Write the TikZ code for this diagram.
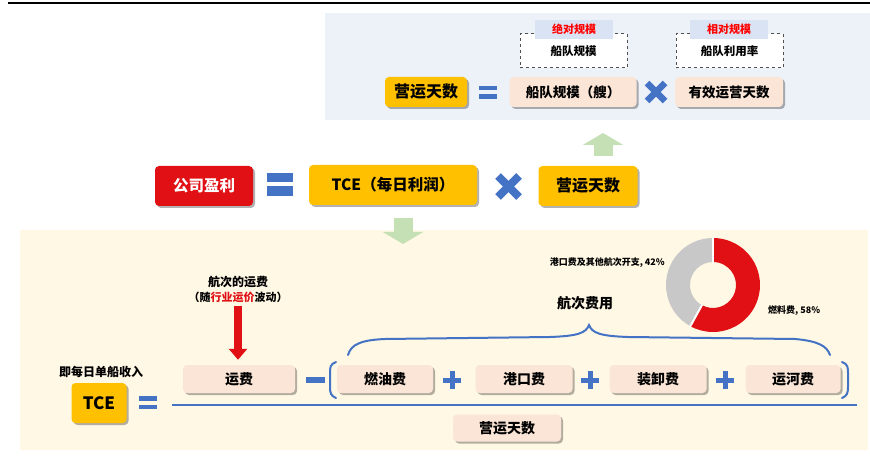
\documentclass[tikz,border=0pt]{standalone}
\usepackage{fontspec}
\setmainfont{Noto Sans CJK SC}
\usetikzlibrary{shadows,arrows.meta,calc}
\definecolor{cYellow}{RGB}{255,192,0}
\definecolor{cRed}{RGB}{224,16,20}
\definecolor{cPeach}{RGB}{251,229,214}
\definecolor{cBlue}{RGB}{68,114,196}
\definecolor{cBlueBg}{RGB}{237,242,249}
\definecolor{cCream}{RGB}{255,248,229}
\definecolor{cTag}{RGB}{218,227,243}
\definecolor{cGreen}{RGB}{197,224,180}
\definecolor{cGray}{RGB}{200,200,200}
\definecolor{cDash}{RGB}{80,80,80}
\newcommand{\fs}[1]{\bfseries\fontsize{#1}{#1}\selectfont}
\begin{document}
\begin{tikzpicture}[x=1pt,y=-1pt,
  box/.style={rounded corners=4pt, inner sep=0pt, align=center, font=\fs{14},
    drop shadow={shadow xshift=2pt,shadow yshift=-2pt,fill=black,opacity=.3}},
  ybox/.style={box, fill=cYellow},
  pbox/.style={box, fill=cPeach},
  rbox/.style={box, fill=cRed, text=white},
  dbox/.style={draw=cDash, dashed, line width=1pt, fill=white, inner sep=0pt, font=\fs{11.5}},
  tagbox/.style={fill=cTag, inner sep=0pt, text=red, font=\fs{11}},
  sign/.style={fill=cBlue},
  xsign/.style={draw=cBlue, line width=#1},
  xsign/.default=6.5pt,
  bline/.style={draw=cBlue, line width=2pt, line cap=round},
  garrow/.style={draw=cGreen, line width=19pt, -{Triangle[width=40pt,length=12pt]}},
  rarrow/.style={draw=cRed, line width=8pt, -{Triangle[width=18pt,length=11pt]}},
  lbl/.style={inner sep=1pt, font=\fs{#1}}
]
\useasboundingbox (0,0) rectangle (870,457);
% top rule
\draw[black, line width=2.5pt] (8,3) -- (870,3);

% ---------- top panel ----------
\fill[cBlueBg] (325,13) rectangle (870,120);
\node[dbox, minimum width=107pt, minimum height=34pt] (absbox) at (573.5,51) {\raisebox{-3pt}{船队规模}};
\node[tagbox, minimum width=78pt, minimum height=19pt] (abstag) at (574,29.5) {绝对规模};
\node[dbox, minimum width=107pt, minimum height=34pt] (relbox) at (729.5,51) {\raisebox{-3pt}{船队利用率}};
\node[tagbox, minimum width=78pt, minimum height=19pt] (reltag) at (729,29.5) {相对规模};

\node[ybox, minimum width=82pt, minimum height=30pt, font=\fs{16}] (tdays) at (426,92) {营运天数};
\fill[sign] (479,86) rectangle (497,90.5);
\fill[sign] (479,94.5) rectangle (497,99);
\node[pbox, minimum width=127pt, minimum height=30pt, font=\fs{13.5}] (fleet) at (573,92) {船队规模（艘）};
\draw[xsign] (647,83) -- (665,101);
\draw[xsign] (647,101) -- (665,83);
\node[pbox, minimum width=108pt, minimum height=30pt, font=\fs{13.5}] (effdays) at (729,92) {有效运营天数};

% ---------- middle row ----------
\node[rbox, minimum width=98pt, minimum height=40pt, font=\fs{15.5}] (profit) at (204,186) {公司盈利};
\fill[sign] (267,173) rectangle (293,182.5);
\fill[sign] (267,186.5) rectangle (293,196);
\node[ybox, minimum width=168pt, minimum height=40pt, font=\fs{15.5}] (tce) at (393,185) {TCE（每日利润）};
\draw[xsign=8pt] (498,176) -- (519,197);
\draw[xsign=8pt] (498,197) -- (519,176);
\node[ybox, minimum width=99pt, minimum height=40pt, font=\fs{16}] (mdays) at (588,186) {营运天数};

\coordinate (upS) at (603,156);
\coordinate (upE) at (603,133);
\draw[garrow] (upS) -- (upE);

% ---------- bottom panel ----------
\fill[cCream] (20,230) rectangle (868,450);

\coordinate (dnS) at (403,218);
\coordinate (dnE) at (403,244);
\draw[garrow, line width=19pt] (dnS) -- (dnE);

\node[lbl=12] (fl1) at (238,282) {航次的运费};
\node[lbl=11] (fl2) at (238,297) {（随\textcolor{cRed}{行业运价}波动）};

\node[lbl=12] (tcelab) at (101,372) {即每日单船收入};
\node[ybox, minimum width=55pt, minimum height=40pt, font=\fs{17}] (tce2) at (99,403) {TCE};
\fill[sign] (139,396) rectangle (157,400.5);
\fill[sign] (139,404.5) rectangle (157,409);
\coordinate (fracL) at (172,405);
\coordinate (fracR) at (857,405);
\draw[cBlue, line width=2pt] (fracL) -- (fracR);

\node[pbox, minimum width=112pt, minimum height=28pt] (yunfei) at (239,379) {运费};
\draw[rarrow, shorten <=2pt, shorten >=5pt] (fl2.south) -- (fl2.south |- yunfei.north);

\fill[sign] (306,377) rectangle (325,383);
% brackets
\draw[bline] (336,362) .. controls (330,364) and (330,368) .. (330,373) -- (330,387) .. controls (330,393) and (331,396) .. (336,398);
\draw[bline] (842,362) .. controls (848,364) and (848,368) .. (848,373) -- (848,387) .. controls (848,393) and (847,396) .. (842,398);

\node[pbox, minimum width=96pt, minimum height=28pt] (fuel) at (385,379) {燃油费};
\fill[sign] (443,377.5) rectangle (461,382.5);
\fill[sign] (449.5,371) rectangle (454.5,389);
\node[pbox, minimum width=97pt, minimum height=28pt] (port) at (524,379) {港口费};
\fill[sign] (581,377.5) rectangle (599,382.5);
\fill[sign] (587.5,371) rectangle (592.5,389);
\node[pbox, minimum width=97pt, minimum height=28pt] (load) at (658,379) {装卸费};
\fill[sign] (716,377.5) rectangle (734,382.5);
\fill[sign] (722.5,371) rectangle (727.5,389);
\node[pbox, minimum width=95pt, minimum height=28pt] (canal) at (793,379) {运河费};

% curly brace
\draw[bline] (348,355) .. controls (351,344) and (362,340) .. (385,339)
  -- (550,337) .. controls (578,336) and (586,333) .. (589,325)
  .. controls (592,333) and (600,336) .. (628,337)
  -- (795,339) .. controls (818,341) and (827,346) .. (830,355);
\node[lbl=14] (voyage) at (585,303) {航次费用};

\node[pbox, minimum width=108pt, minimum height=27pt] (bdays) at (507,428) {营运天数};

% donut
\coordinate (dc) at (713,285);
\fill[cRed] ($(dc)+(-90:47)$) arc[start angle=-90, end angle=118.8, radius=47]
  -- ($(dc)+(118.8:23)$) arc[start angle=118.8, end angle=-90, radius=23] -- cycle;
\fill[cGray] ($(dc)+(118.8:47)$) arc[start angle=118.8, end angle=270, radius=47]
  -- ($(dc)+(270:23)$) arc[start angle=270, end angle=118.8, radius=23] -- cycle;
\draw[white, line width=2pt] ($(dc)+(-90:22)$) -- ($(dc)+(-90:48)$);
\draw[white, line width=2pt] ($(dc)+(118.8:22)$) -- ($(dc)+(118.8:48)$);
\node[lbl=9, anchor=east] (lblport) at (666,263) {港口费及其他航次开支, 42\%};
\node[lbl=9, anchor=west] (lblfuel) at (767,311) {燃料费, 58\%};
\end{tikzpicture}
\end{document}
